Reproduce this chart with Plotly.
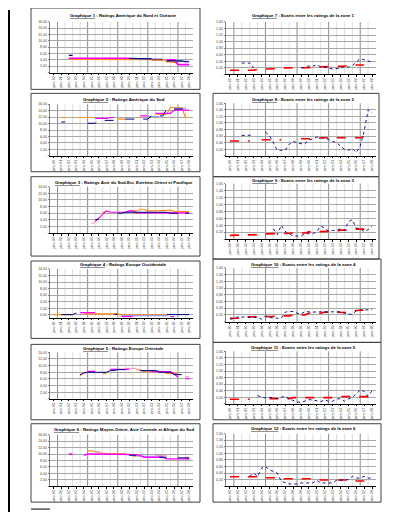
import plotly.graph_objects as go

W, H = 398, 512
N = 37

# ---------------- tick labels ----------------
TICK_LABELS = ["janv-90", "janv-91", "janv-92", "janv-93", "janv-94", "janv-95", "janv-96",
               "janv-97", "janv-98", "janv-99", "janv-00", "janv-01", "janv-02", "janv-03",
               "janv-04", "janv-05", "janv-06", "janv-07", "janv-08"]
Y16_VALS = [0, 2, 4, 6, 8, 10, 12, 14, 16]
Y16_TEXT = ["-", "2,00", "4,00", "6,00", "8,00", "10,00", "12,00", "14,00", "16,00"]
Y14_VALS = [0, 2, 4, 6, 8, 10, 12, 14]
Y14_TEXT = ["-", "2,00", "4,00", "6,00", "8,00", "10,00", "12,00", "14,00"]
Y14B_TEXT = ["0,00", "2,00", "4,00", "6,00", "8,00", "10,00", "12,00", "14,00"]
YR_VALS = [0, 0.2, 0.4, 0.6, 0.8, 1.0, 1.2, 1.4, 1.6]
YR_TEXT = ["-", "0,20", "0,40", "0,60", "0,80", "1,00", "1,20", "1,40", "1,60"]

TITLES = [
    "Graphique 1", " : Ratings Amérique du Nord et Océanie",
    "Graphique 2", " : Ratings Amérique du Sud",
    "Graphique 3", " : Ratings Asie du Sud-Est, Extrême-Orient et Pacifique",
    "Graphique 4", " : Ratings Europe Occidentale",
    "Graphique 5", " : Ratings Europe Orientale",
    "Graphique 6", " : Ratings Moyen-Orient, Asie Centrale et Afrique du Sud",
    "Graphique 7", " : Ecarts entre les ratings de la zone 1",
    "Graphique 8", " : Ecarts entre les ratings de la zone 2",
    "Graphique 9", " : Ecarts entre les ratings de la zone 3",
    "Graphique 10", " : Ecarts entre les ratings de la zone 4",
    "Graphique 11", " : Ecarts entre les ratings de la zone 5",
    "Graphique 12", " : Ecarts entre les ratings de la zone 6",
]

# ---------------- left charts : ratings ----------------
c1_navy = [None]*4 + [5.4]*2 + [None]*14 + [4.5]*3 + [4.3]*4 + [None]*3 + [3.7]*5 + [3.4]*2
c1_magenta = [None]*4 + [4.5]*17 + [None]*9 + [4.0]*3 + [2.5]*4
c1_orange = [None]*4 + [4.2]*17 + [4.1]*9 + [3.4]*2 + [3.1]*2 + [None]*3
c1_lavender = [None]*21 + [4.3]*9 + [None]*2 + [3.5]*5
c1_darkred = [None]*26 + [4.0]*4 + [None]*7

c2_orange = [None]*2 + [11.9]*2 + [None]*2 + [11.9]*5 + [None]*6 + [11.4]*3 + [None]*2 + [11.9]*2 + [None]*3 + [12.9]*4 + [15.0]*4 + [11.9]*2
c2_navy = [None]*2 + [10.5]*2 + [None]*5 + [10.1]*3 + [11.0]*6 + [None] + [11.4]*7 + [12.4]*4 + [14.5]*5 + [15.5]*2
c2_magenta = [None]*11 + [11.6]*4 + [11.9]*2 + [None]*6 + [12.4]*3 + [None] + [13.2]*5 + [14.2]*5
c2_lavender = [None]*25 + [12.2]*4 + [None]*3 + [14.7]*4 + [None]

c3_magenta = [None]*11 + [3.5, 4.5, 5.8, 6.7] + [6.3]*5 + [6.7]*2 + [6.1]*15
c3_navy = [None]*11 + [4.0, 4.3] + [None]*4 + [6.0]*2 + [6.3]*12 + [6.0]*3 + [None] + [6.0]*2
c3_orange = [None]*13 + [6.2, 6.7] + [None]*5 + [6.7]*3 + [7.2]*2 + [6.7]*3 + [6.9]*4 + [6.5]*5
c3_pink = [None]*10 + [2.9, 3.3] + [None]*14 + [6.0]*11

c4_orange = [0.1]*6 + [None]*2 + [0.3]*10 + [0.0]*13 + [None]*6
c4_navy = [None]*2 + [0.1]*4 + [0.6] + [None]*9 + [0.2]*2 + [None]*12 + [0.1]*7
c4_magenta = [None]*7 + [0.7]*5 + [None]*6 + [-0.5]*4 + [None]*9 + [-0.5]*2 + [None]*4
c4_lavender = [None]*18 + [-0.2]*13 + [None]*6

c5_orange = [None]*7 + [7.0, 8.0, 8.0] + [None]*3 + [7.7]*2 + [None]*7 + [8.7]*2 + [8.2]*6 + [7.7]*4 + [None]*3
c5_navy = [None]*7 + [7.2, 7.8] + [8.0]*6 + [8.5]*2 + [8.8]*3 + [None]*3 + [8.5]*5 + [8.0]*4 + [7.3]*3 + [None]*2
c5_magenta = [None]*9 + [8.3]*3 + [None]*3 + [8.9]*6 + [None]*5 + [8.2]*6 + [7.5, 6.5] + [None] + [6.2, 6.0]
c5_lavender = [None]*8 + [7.9]*2 + [None]*13 + [8.5]*6 + [None]*8
c5_pink = [None]*19 + [9.2]*4 + [None]*12 + [6.7]*2

c6_magenta = [None]*4 + [10.0]*2 + [None]*2 + [9.6] + [10.0]*11 + [9.8]*3 + [9.5] + [9.0]*6 + [8.5]*7
c6_orange = [None]*9 + [11.0]*2 + [10.7]*2 + [10.1]*7 + [None] + [9.3]*2 + [None]*14
c6_navy = [None]*20 + [9.6]*3 + [None]*5 + [9.0]*3 + [None]*2 + [8.8]*4
c6_lavender = [None]*22 + [9.3]*8 + [None]*5 + [8.5]*2
c6_pink = [None]*11 + [10.6]*2 + [None]*14 + [9.5]*4 + [None]*4 + [9.0]*2

# ---------------- right charts : spreads ----------------
c7_red = [0.13]*7 + [0.16]*4 + [0.18]*3 + [0.20]*4 + [0.21]*3 + [0.23]*5 + [0.25]*4 + [0.29]*5 + [None]*2
c7_blue = [None, None, None, 0.35, 0.35, 0.35, 0.20, None, None, None, None, None, None, None,
           None, None, None, None, 0.20, 0.24, 0.26, 0.25, 0.30, 0.23, 0.22, 0.20, 0.17, 0.18,
           0.19, 0.25, 0.22, 0.27, 0.38, 0.48, 0.45, 0.40, 0.37]

c8_red = [0.45]*6 + [None]*2 + [0.49]*6 + [None]*4 + [0.52]*5 + [0.55]*11 + [0.59]*3
c8_blue = [None, None, None, 0.62, 0.62, 0.62, 0.63, None, None, 0.72, 0.62, 0.40, 0.17, 0.17,
           0.17, 0.35, 0.44, 0.40, 0.37, 0.37, 0.48, 0.52, 0.57, 0.55, 0.52, 0.50, 0.44, 0.40,
           0.30, 0.20, 0.17, 0.22, 0.10, 0.30, 0.75, 1.40, 1.30]

c9_red = [0.11]*4 + [0.13]*4 + [0.15]*4 + [0.17]*4 + [0.18]*4 + [0.21]*4 + [0.23]*4 + [0.26]*4 + [0.29]*3 + [0.32]*2
c9_blue = [None]*11 + [0.30, 0.13, 0.40, 0.22, 0.16, 0.09, 0.09, 0.09, 0.16, 0.16, 0.16, 0.22,
                       0.38, 0.32, 0.23, 0.25, 0.26, 0.30, 0.25, 0.50, 0.56, 0.32, 0.30, 0.22,
                       0.27, 0.37]

c10_red = [0.10]*4 + [0.14]*4 + [0.15]*4 + [0.17]*4 + [0.20]*4 + [0.25]*4 + [0.28]*5 + [0.27]*3 + [0.33]*2 + [0.35]*3
c10_blue = [0.07, 0.09, 0.14, 0.14, 0.14, 0.14, 0.14, 0.12, 0.07, 0.17, 0.12, 0.10, 0.10, 0.10,
            0.28, 0.30, 0.30, 0.25, 0.22, 0.30, 0.28, 0.28, 0.29, 0.29, 0.29, 0.29, 0.29, 0.29,
            0.29, 0.25, 0.22, 0.22, 0.32, 0.35, 0.35, 0.35, 0.35]

c11_red = [0.14]*6 + [None]*4 + [0.16]*6 + [0.19]*11 + [0.22]*10
c11_blue = [None]*7 + [0.25, 0.22, 0.18, 0.20, 0.18, 0.16, 0.20, 0.24, 0.15, 0.10, 0.06, 0.04,
                      0.08, 0.13, 0.12, 0.10, 0.07, 0.12, 0.08, 0.08, 0.15, 0.16, 0.08, 0.15,
                      0.20, 0.30, 0.43, 0.38, 0.23, 0.40]

c12_red = [0.29]*8 + [0.26]*5 + [0.23]*10 + [0.19]*9 + [0.16]*5
c12_blue = [None]*5 + [0.30, 0.40, 0.30, 0.55, 0.60, 0.50, 0.45, 0.40, 0.15, 0.10, 0.07, 0.07,
                      0.07, 0.10, 0.10, 0.10, 0.10, 0.18, 0.10, 0.10, 0.10, 0.10, 0.18, 0.18,
                      0.18, 0.20, 0.30, 0.25, 0.25, 0.30, 0.25, 0.25]

# ---------------- styles ----------------
NAVY = "#000080"
MAGENTA = "#FF00FF"
ORANGE = "#FF8C1A"
LAVENDER = "#9999FF"
PINK = "#FF99CC"
DARKRED = "#993300"
RED = "#FF0000"

def pad(v):
    v = list(v)[:N]
    return v + [None] * (N - len(v))

charts = [
    dict(plot=(42, 185, 12, 63), yr=(0, 16), tv=Y16_VALS, tt=Y16_TEXT, box=(23, 192, -2, 80), ty=6,
         series=[(c1_orange, ORANGE, "solid", 1.3), (c1_magenta, MAGENTA, "solid", 1.6),
                 (c1_lavender, LAVENDER, "solid", 1.3), (c1_darkred, DARKRED, "solid", 1.2),
                 (c1_navy, NAVY, "solid", 1.2)]),
    dict(plot=(42, 185, 95, 147), yr=(0, 16), tv=Y16_VALS, tt=Y16_TEXT, box=(23, 192, 84, 163), ty=90,
         series=[(c2_orange, ORANGE, "solid", 1.2), (c2_lavender, LAVENDER, "solid", 1.2),
                 (c2_magenta, MAGENTA, "solid", 1.2), (c2_navy, NAVY, "dash", 1.0)]),
    dict(plot=(42, 185, 178, 225), yr=(0, 14), tv=Y14_VALS, tt=Y14_TEXT, box=(23, 192, 168, 248), ty=174,
         series=[(c3_orange, ORANGE, "solid", 1.2), (c3_pink, PINK, "solid", 1.2),
                 (c3_magenta, MAGENTA, "solid", 1.2), (c3_navy, NAVY, "solid", 1.0)]),
    dict(plot=(42, 185, 261, 310), yr=(-0.8, 14), tv=Y14_VALS, tt=Y14B_TEXT, box=(23, 192, 253, 331), ty=257,
         series=[(c4_orange, ORANGE, "solid", 1.4), (c4_lavender, LAVENDER, "solid", 1.2),
                 (c4_magenta, MAGENTA, "solid", 1.4), (c4_navy, NAVY, "solid", 1.0)]),
    dict(plot=(42, 185, 345, 392), yr=(0, 14), tv=Y14_VALS, tt=Y14_TEXT, box=(23, 192, 337, 413), ty=341,
         series=[(c5_orange, ORANGE, "solid", 1.2), (c5_pink, PINK, "solid", 1.2),
                 (c5_lavender, LAVENDER, "solid", 1.2), (c5_magenta, MAGENTA, "solid", 1.2),
                 (c5_navy, NAVY, "solid", 1.0)]),
    dict(plot=(42, 185, 428, 480), yr=(0, 16), tv=Y16_VALS, tt=Y16_TEXT, box=(23, 192, 417, 496), ty=423,
         series=[(c6_orange, ORANGE, "solid", 1.2), (c6_pink, PINK, "solid", 1.2),
                 (c6_lavender, LAVENDER, "solid", 1.2), (c6_magenta, MAGENTA, "solid", 1.4),
                 (c6_navy, NAVY, "solid", 1.0)]),
    dict(plot=(218, 368, 12, 65), yr=(0, 1.6), tv=YR_VALS, tt=YR_TEXT, box=None, ty=6,
         series=[(c7_red, RED, "dash", 1.6), (c7_blue, NAVY, "dot", 0.9)]),
    dict(plot=(218, 368, 94, 147), yr=(0, 1.6), tv=YR_VALS, tt=YR_TEXT, box=(205, 371, 84, 168), ty=90,
         series=[(c8_red, RED, "dash", 1.6), (c8_blue, NAVY, "dot", 0.9)]),
    dict(plot=(218, 368, 175, 231), yr=(0, 1.6), tv=YR_VALS, tt=YR_TEXT, box=(205, 371, 168, 251), ty=172,
         series=[(c9_red, RED, "dash", 1.6), (c9_blue, NAVY, "dot", 0.9)]),
    dict(plot=(218, 368, 260, 314), yr=(0, 1.6), tv=YR_VALS, tt=YR_TEXT, box=(205, 373, 251, 335), ty=256,
         series=[(c10_red, RED, "dash", 1.6), (c10_blue, NAVY, "dot", 0.9)]),
    dict(plot=(218, 368, 344, 397), yr=(0, 1.6), tv=YR_VALS, tt=YR_TEXT, box=(205, 373, 335, 413), ty=340,
         series=[(c11_red, RED, "dash", 1.6), (c11_blue, NAVY, "dot", 0.9)]),
    dict(plot=(218, 368, 427, 480), yr=(0, 1.6), tv=YR_VALS, tt=YR_TEXT, box=(205, 373, 417, 496), ty=422,
         series=[(c12_red, RED, "dash", 1.6), (c12_blue, NAVY, "dot", 0.9)]),
]

X_POS = list(range(N))
TICK_POS = list(range(0, N, 2))

fig = go.Figure()
shapes = []
annotations = []
FONT = "Liberation Sans, Arial, sans-serif"

def fx(px):
    return px / W

def fy(py):
    return 1 - py / H

for i, c in enumerate(charts, start=1):
    x0, x1, y0, y1 = c["plot"]
    xa = "xaxis" if i == 1 else f"xaxis{i}"
    ya = "yaxis" if i == 1 else f"yaxis{i}"
    xr = "x" if i == 1 else f"x{i}"
    yr_ = "y" if i == 1 else f"y{i}"
    fig.update_layout({
        xa: dict(domain=[fx(x0), fx(x1)], anchor=yr_, range=[-1, N], showgrid=False,
                 zeroline=False, showline=True, linecolor="#000000", linewidth=1,
                 tickmode="array", tickvals=TICK_POS, ticktext=TICK_LABELS, tickangle=-90,
                 ticks="outside", ticklen=1.5, tickcolor="#000", tickwidth=0.6,
                 tickfont=dict(size=3.5, color="#444444", family=FONT), fixedrange=True),
        ya: dict(domain=[fy(y1), fy(y0)], anchor=xr, range=list(c["yr"]), showgrid=True,
                 gridcolor="#A8A8A8", gridwidth=0.7, zeroline=False, showline=True,
                 linecolor="#808080", linewidth=0.8, tickmode="array", tickvals=c["tv"],
                 ticktext=c["tt"], ticks="outside", ticklen=1.5, tickcolor="#808080",
                 tickfont=dict(size=3.5, color="#444444", family=FONT), fixedrange=True),
    })
    for k in range(1, N, 2):
        major = (k - 1) % 8 == 0
        shapes.append(dict(type="line", xref=xr, yref=f"{yr_} domain", x0=k, x1=k, y0=0, y1=1,
                           line=dict(color="#8C8C8C" if major else "#D0D0D0",
                                     width=1 if major else 0.7), layer="below"))
    for vals, col, dash, w in c["series"]:
        fig.add_trace(go.Scatter(x=X_POS, y=pad(vals), mode="lines", xaxis=xr, yaxis=yr_,
                                 line=dict(color=col, dash=dash, width=w),
                                 connectgaps=False, showlegend=False, hoverinfo="skip"))
    if c["box"]:
        bx0, bx1, by0, by1 = c["box"]
        shapes.append(dict(type="rect", xref="paper", yref="paper", x0=fx(bx0), x1=fx(bx1),
                           y0=fy(by1), y1=fy(by0), line=dict(color="#404040", width=1)))
    t_num = TITLES[2 * (i - 1)]
    t_rest = TITLES[2 * (i - 1) + 1]
    annotations.append(dict(text=f"<b><u>{t_num}</u>{t_rest}</b>", xref="paper", yref="paper",
                            x=fx((x0 + x1) / 2 + 2), y=fy(c["ty"]), xanchor="center", yanchor="middle",
                            showarrow=False, font=dict(size=4.3, color="#000000", family=FONT)))

shapes.append(dict(type="line", xref="paper", yref="paper", x0=fx(1), x1=fx(1), y0=0, y1=1,
                   line=dict(color="#000000", width=2)))
shapes.append(dict(type="line", xref="paper", yref="paper", x0=fx(397), x1=fx(397), y0=fy(507), y1=1,
                   line=dict(color="#000000", width=1)))
shapes.append(dict(type="line", xref="paper", yref="paper", x0=fx(1), x1=fx(397), y0=fy(507), y1=fy(507),
                   line=dict(color="#000000", width=1.5)))
shapes.append(dict(type="line", xref="paper", yref="paper", x0=fx(23), x1=fx(42), y0=fy(503), y1=fy(503),
                   line=dict(color="#000000", width=1)))

fig.update_layout(width=W, height=H, margin=dict(l=0, r=0, t=0, b=0),
                  paper_bgcolor="#FFFFFF", plot_bgcolor="#FFFFFF",
                  shapes=shapes, annotations=annotations, showlegend=False,
                  font=dict(family=FONT, size=4))

fig.write_html("out.html", include_plotlyjs=True, config={"displayModeBar": False})
